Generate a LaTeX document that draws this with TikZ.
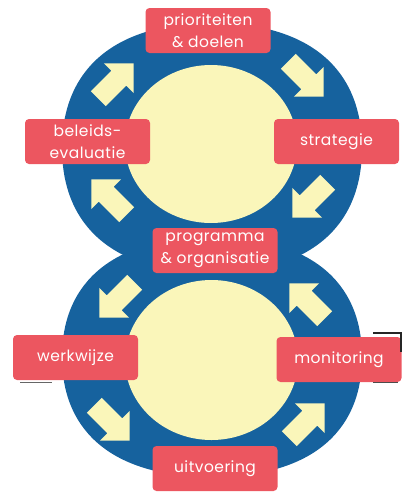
\documentclass[tikz,border=0pt]{standalone}
\usepackage{fontspec}
\setmainfont{Poppins}[LetterSpace=3]
\definecolor{ringblue}{RGB}{22,98,158}
\definecolor{coreyellow}{RGB}{250,246,186}
\definecolor{stagered}{RGB}{236,86,96}
\begin{document}
\begin{tikzpicture}[x=1pt,y=-1pt,
  stage/.style={fill=stagered, rounded corners=4pt, minimum width=125pt,
    minimum height=45pt, inner sep=0pt, text=white, align=center,
    font=\fontsize{15.5}{22}\selectfont},
  ring/.style={fill=ringblue},
  core/.style={fill=coreyellow},
  flowarrow/.pic={\fill[coreyellow] (-25,-10.5) -- (4,-10.5) -- (4,-21) -- (25,0)
    -- (4,21) -- (4,10.5) -- (-25,10.5) -- cycle;}
]
\useasboundingbox (0,0) rectangle (403,493);

% blue rings: two squarish ovals, one above the other
\fill[ring] (362,148) .. controls (362,228) and (308,273) .. (212,273)
  .. controls (116,273) and (62,228) .. (62,148)
  .. controls (62,68) and (116,23) .. (212,23)
  .. controls (308,23) and (362,68) .. (362,148) -- cycle;
\fill[ring] (362,357) .. controls (362,434) and (308,477) .. (212,477)
  .. controls (116,477) and (62,434) .. (62,357)
  .. controls (62,280) and (116,237) .. (212,237)
  .. controls (308,237) and (362,280) .. (362,357) -- cycle;

% inner discs
\fill[core] (211,144) ellipse [x radius=86pt, y radius=79pt];
\fill[core] (211.5,360) ellipse [x radius=86.5pt, y radius=80pt];

% upper cycle, clockwise
\pic[rotate=45]   at (116,81)  {flowarrow};
\pic[rotate=-45]  at (306,79)  {flowarrow};
\pic[rotate=-135] at (310,200) {flowarrow};
\pic[rotate=135]  at (109,197) {flowarrow};

% lower cycle, anticlockwise
\pic[rotate=-135] at (117,300) {flowarrow};
\pic[rotate=135]  at (307,301) {flowarrow};
\pic[rotate=-45]  at (112,423) {flowarrow};
\pic[rotate=45]   at (307,421) {flowarrow};

% stages
\node[stage] (prio)   at (208,30.5)  {prioriteiten\\\& doelen};
\node[stage] (beleid) at (87.5,141.5) {beleids-\\evaluatie};
\node[stage] (strat)  at (336.5,141.5) {strategie};
\node[stage] (prog)   at (215,250.5) {programma\\\& organisatie};
\node[stage] (werk)   at (75.5,357.5) {werkwijze};
\node[stage] (moni)   at (339,359.5) {monitoring};
\node[stage] (uitv)   at (215,468.5) {uitvoering};

% dark edge marks beside the lower stages
\draw[line width=2pt, black!85] (373,333) -- (401,333) -- (401,352);
\draw[line width=1pt, black!70] (373,382) -- (398,382);
\draw[line width=0.8pt, black!60] (20,382) -- (52,382);
\end{tikzpicture}
\end{document}
